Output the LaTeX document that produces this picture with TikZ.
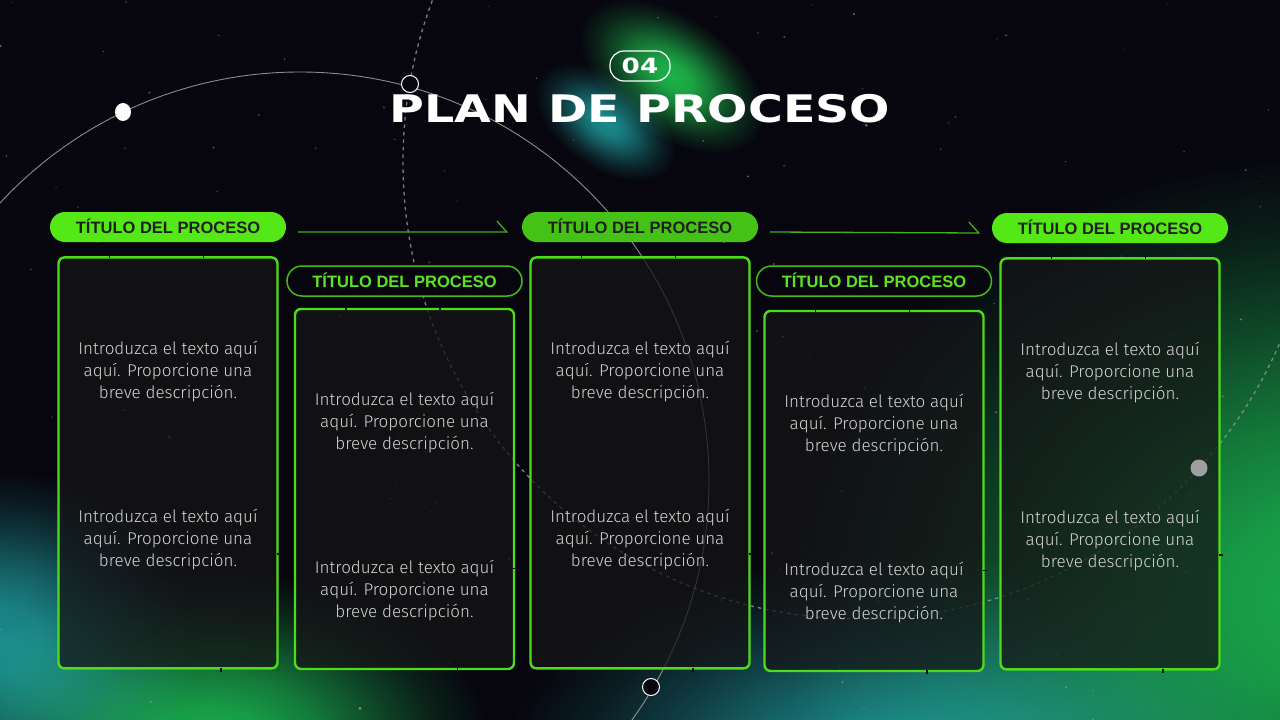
\documentclass[tikz,border=0pt]{standalone}
\usepackage{fontspec}
\setmainfont{Liberation Sans}
\newfontfamily\titlefont[FakeStretch=1.25]{DejaVu Sans}
\newfontfamily\bodyfont{Fira Sans Light}
\usepackage{tikz}
\usetikzlibrary{positioning,calc}

\definecolor{nightbg}{HTML}{07060E}
\definecolor{limeA}{HTML}{55E817}
\definecolor{limeB}{HTML}{44C215}
\definecolor{limeline}{HTML}{4CDD1A}
\definecolor{limetext}{HTML}{5CE322}
\definecolor{boxfill}{HTML}{151517}
\definecolor{bodygray}{HTML}{D4D4D4}
\definecolor{glowgreen}{HTML}{12A540}
\definecolor{glowlime}{HTML}{16B03E}
\definecolor{glowteal}{HTML}{148684}
\colorlet{glowcol}{black}

\pgfdeclareradialshading[glowcol]{softglow}{\pgfpoint{0bp}{0bp}}{%
    color(0bp)=(glowcol); color(5bp)=(glowcol!92!black); color(10bp)=(glowcol!70!black);
    color(15bp)=(glowcol!42!black); color(20bp)=(glowcol!17!black);
    color(25bp)=(black); color(50bp)=(black)}

\newcommand\introtext{Introduzca el texto aquí\\aquí. Proporcione una\\breve descripción.}

\tikzset{
    glow/.style={blend mode=screen, /utils/exec={\colorlet{glowcol}{#1}}, shading=softglow},
    pillfull/.style={fill=#1, rounded corners=15pt, minimum width=236pt, minimum height=30pt,
        inner sep=0pt, text=black!88, text height=12pt, text depth=0pt,
        font=\bfseries\fontsize{16.5}{16.5}\selectfont},
    pillline/.style={draw=limeline!85!black, fill=nightbg, line width=1.5pt, rounded corners=15pt,
        minimum width=235pt, minimum height=30pt, inner sep=0pt, text=limetext,
        text height=12pt, text depth=0pt, font=\bfseries\fontsize{16.5}{16.5}\selectfont},
    stepbox/.style={draw=limeline, line width=2.4pt, fill=boxfill, fill opacity=0.74,
        rounded corners=6pt, minimum width=219pt, minimum height=#1, inner sep=0pt},
    desc/.style={align=center, text=bodygray, font=\bodyfont\fontsize{17}{22}\selectfont},
    flowline/.style={draw=limeline!80!black, line width=1.3pt, line join=miter},
    notch/.style={draw=nightbg, line width=1.6pt},
    orbit/.style={draw=gray!65, line width=0.9pt, opacity=0.8},
    dashorbit/.style={draw=gray!80, line width=1.3pt, opacity=0.8, dash pattern=on 3.5pt off 4pt},
}

\begin{document}
\begin{tikzpicture}[x=1pt,y=-1pt]
\useasboundingbox (0,0) rectangle (1280,720);
\clip (0,0) rectangle (1280,720);
\fill[nightbg] (0,0) rectangle (1280,720);

% glows
\shade[glow=glowgreen] (1340,600) ellipse (560 and 450);
\shade[glow=glowteal] (900,770) ellipse (400 and 220);
\shade[glow=glowgreen] (210,740) ellipse (280 and 170);
\shade[glow=glowteal] (0,640) ellipse (200 and 170);
\shade[glow=glowteal, transform canvas={rotate around={-35:(605,122)}}] (605,122) ellipse (80 and 46);
\shade[glow=glowlime, transform canvas={rotate around={-35:(672,76)}}] (672,76) ellipse (105 and 60);

% stars
\pgfmathsetseed{11}
\foreach \s in {1,...,140}{
    \pgfmathsetmacro\sx{rnd*1280}
    \pgfmathsetmacro\sy{rnd*720}
    \pgfmathsetmacro\so{0.12+rnd*0.3}
    \fill[white, opacity=\so] (\sx,\sy) circle (0.6+rnd*0.9);
}

% orbits
\draw[orbit] (300,481) circle (409);
\draw[dashorbit] (860,162) circle (457);

% heading
\node[draw=white, line width=1.2pt, rounded corners=14pt, minimum width=60pt, minimum height=30pt,
    inner sep=0pt, text=white, font=\titlefont\bfseries\fontsize{21}{21}\selectfont] (num) at (640,66) {04};
\node[text=white, inner sep=0pt, font=\titlefont\bfseries\fontsize{38}{38}\selectfont] (title) at (640,109) {PLAN DE PROCESO};

% titles
\node[pillfull=limeA] (p1) at (168,227) {TÍTULO DEL PROCESO};
\node[pillline] (p2) at (404.5,281) {TÍTULO DEL PROCESO};
\node[pillfull=limeB] (p3) at (640,227) {TÍTULO DEL PROCESO};
\node[pillline] (p4) at (874,281) {TÍTULO DEL PROCESO};
\node[pillfull=limeA] (p5) at (1110,228) {TÍTULO DEL PROCESO};

% boxes
\node[stepbox=411pt, below=14pt of p1] (b1) {};
\node[stepbox=360pt, below=11pt of p2] (b2) {};
\node[stepbox=411pt, below=14pt of p3] (b3) {};
\node[stepbox=360pt, below=13pt of p4] (b4) {};
\node[stepbox=411pt, below=14pt of p5] (b5) {};

\foreach \b in {b1,b2,b3,b4,b5}{
    \draw[notch] ($(\b.north west)!0.235!(\b.north east)$) +(0,-2) -- +(0,2);
    \draw[notch] ($(\b.north west)!0.66!(\b.north east)$) +(0,-2) -- +(0,2);
    \draw[notch] ($(\b.south west)!0.74!(\b.south east)$) +(0,-2) -- +(0,2);
    \draw[notch] ($(\b.north east)!0.72!(\b.south east)$) +(-2,0) -- +(2,0);
}

% texts
\node[desc] (t1a) at ($(b1.north)+(0,115)$) {\introtext};
\node[desc] (t1b) at ($(b1.north)+(0,283)$) {\introtext};
\node[desc] (t2a) at ($(b2.north)+(0,115)$) {\introtext};
\node[desc] (t2b) at ($(b2.north)+(0,283)$) {\introtext};
\node[desc] (t3a) at ($(b3.north)+(0,115)$) {\introtext};
\node[desc] (t3b) at ($(b3.north)+(0,283)$) {\introtext};
\node[desc] (t4a) at ($(b4.north)+(0,115)$) {\introtext};
\node[desc] (t4b) at ($(b4.north)+(0,283)$) {\introtext};
\node[desc] (t5a) at ($(b5.north)+(0,115)$) {\introtext};
\node[desc] (t5b) at ($(b5.north)+(0,283)$) {\introtext};

% arrows
\coordinate (a1) at ($(p1.east)+(12,5)$);
\coordinate (a2) at ($(p3.west)+(-15,5)$);
\draw[flowline] (a1) -- (a2) -- ++(-10,-11);
\coordinate (a3) at ($(p3.east)+(12,5)$);
\coordinate (a4) at ($(p5.west)+(-13,5)$);
\draw[flowline] (a3) -- (a4) -- ++(-10,-11);

% dots on orbits
\fill[white] (123,112) ellipse (8 and 9);
\draw[white, fill=nightbg, line width=1pt] (410,84) circle (8.5);
\draw[white, fill=nightbg, line width=1pt] (651,687) circle (8.5);
\fill[gray!75] (1199,468) circle (8.5);
\end{tikzpicture}
\end{document}
